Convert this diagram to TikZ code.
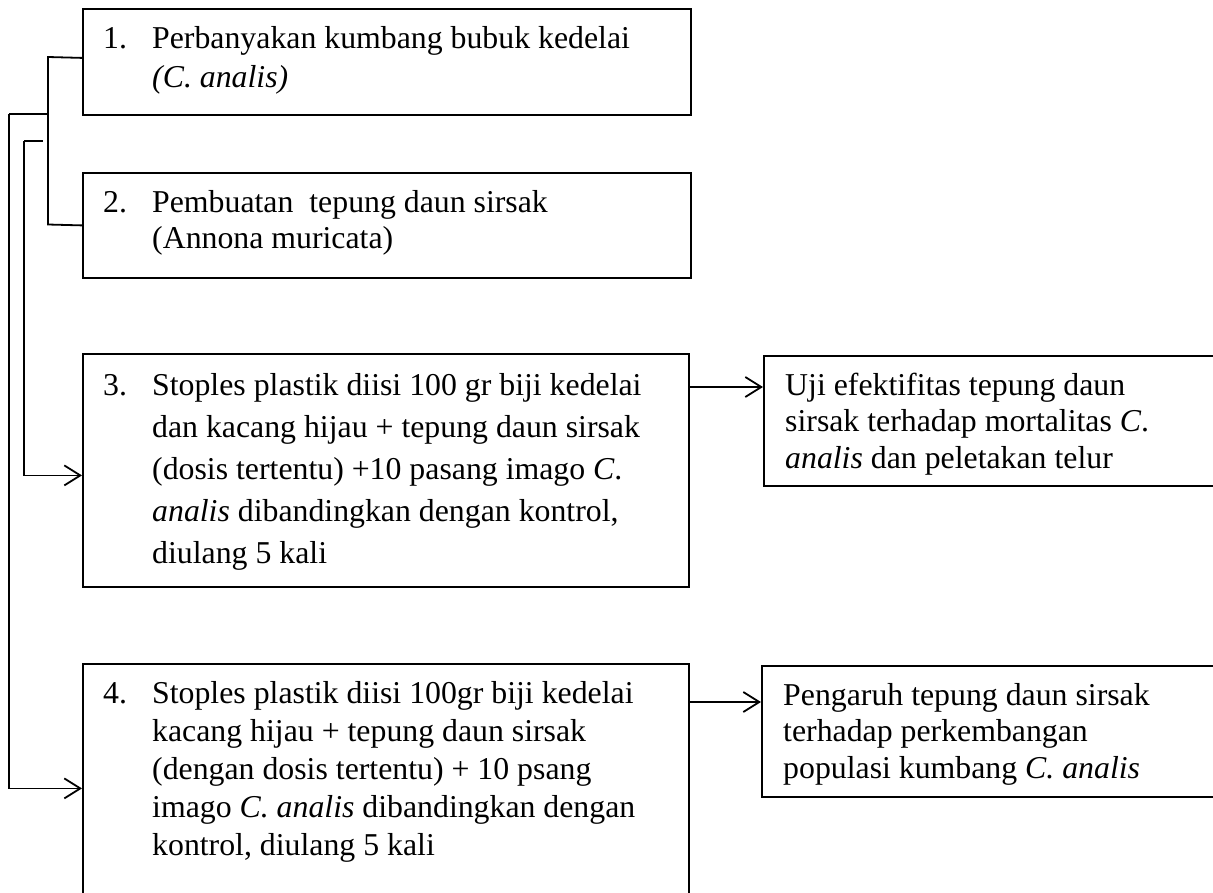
\documentclass[tikz,border=0pt]{standalone}
\usepackage{fontspec}
\setmainfont{Liberation Serif}
\usetikzlibrary{arrows.meta,calc}
\begin{document}
\begin{tikzpicture}[x=1pt,y=-1pt,
  boxnode/.style={draw=black,line width=1.8pt,inner sep=0pt,anchor=north west},
  txt/.style={inner sep=0pt,anchor=base west},
  conn/.style={draw=black,line width=1.8pt},
  arr/.style={conn,-{Straight Barb[length=16pt,width=20pt]}}]
\useasboundingbox (0,0) rectangle (1213,892);
\clip (0,0) rectangle (1213,892);
% boxes
\node[boxnode,minimum width=608pt,minimum height=106pt] (b1) at (82,8) {};
\node[boxnode,minimum width=608pt,minimum height=105pt] (b2) at (82,172) {};
\node[boxnode,minimum width=606pt,minimum height=233pt] (b3) at (82,353) {};
\node[boxnode,minimum width=606pt,minimum height=245pt] (b4) at (82,663) {};
\node[boxnode,minimum width=470pt,minimum height=130pt] (rA) at (763,355) {};
\node[boxnode,minimum width=472pt,minimum height=131pt] (rB) at (761,665) {};
% texts
\node[txt] (t1) at (103,48) {\fontsize{31.8}{39}\selectfont
  \begin{tabular}[t]{@{}p{49pt}@{}l@{}}1. & Perbanyakan kumbang bubuk kedelai\\ & \textit{(C. analis)}\end{tabular}};
\node[txt] (t2) at (103,212) {\fontsize{31.8}{36}\selectfont
  \begin{tabular}[t]{@{}p{49pt}@{}l@{}}2. & Pembuatan\ \ tepung daun sirsak\\ & (Annona muricata)\end{tabular}};
\node[txt] (t3) at (103,395) {\fontsize{31.8}{42}\selectfont
  \begin{tabular}[t]{@{}p{49pt}@{}l@{}}3. & Stoples plastik diisi 100 gr biji kedelai\\
  & dan kacang hijau + tepung daun sirsak\\
  & (dosis tertentu) +10 pasang imago \textit{C}.\\
  & \textit{analis} dibandingkan dengan kontrol,\\
  & diulang 5 kali\end{tabular}};
\node[txt] (t4) at (103,703) {\fontsize{31.8}{38}\selectfont
  \begin{tabular}[t]{@{}p{49pt}@{}l@{}}4. & Stoples plastik diisi 100gr biji kedelai\\
  & kacang hijau + tepung daun sirsak\\
  & (dengan dosis tertentu) + 10 psang\\
  & imago \textit{C. analis} dibandingkan dengan\\
  & kontrol, diulang 5 kali\end{tabular}};
\node[txt] (tA) at (785,395) {\fontsize{31.8}{36.5}\selectfont
  \begin{tabular}[t]{@{}l@{}}Uji efektifitas tepung daun\\
  sirsak terhadap mortalitas \textit{C}.\\
  \textit{analis} dan peletakan telur\end{tabular}};
\node[txt] (tB) at (783,705) {\fontsize{31.8}{36.5}\selectfont
  \begin{tabular}[t]{@{}l@{}}Pengaruh tepung daun sirsak\\
  terhadap perkembangan\\
  populasi kumbang \textit{C. analis}\end{tabular}};
% connectors
\coordinate (brTop) at (48,57);
\coordinate (brBot) at (48,224.5);
\coordinate (brMid) at (48,114);
\coordinate (outer) at (9,114);
\coordinate (stubL) at (24,141);
\coordinate (stubR) at (43,141);
\coordinate (a3) at (688,387);
\coordinate (a4) at (688,702);
\draw[conn] ([yshift=4pt]b1.west) -- (brTop) -- (brBot) -- (b2.west);
\draw[conn] (brMid) -- (outer);
\draw[arr] (outer) |- ([yshift=-2pt]b4.west);
\draw[conn] (stubL) -- (stubR);
\draw[arr] (stubL) |- ([yshift=-5pt]b3.west);
\draw[arr] (a3) -- (a3 -| rA.west);
\draw[arr] (a4) -- (a4 -| rB.west);
\end{tikzpicture}
\end{document}
